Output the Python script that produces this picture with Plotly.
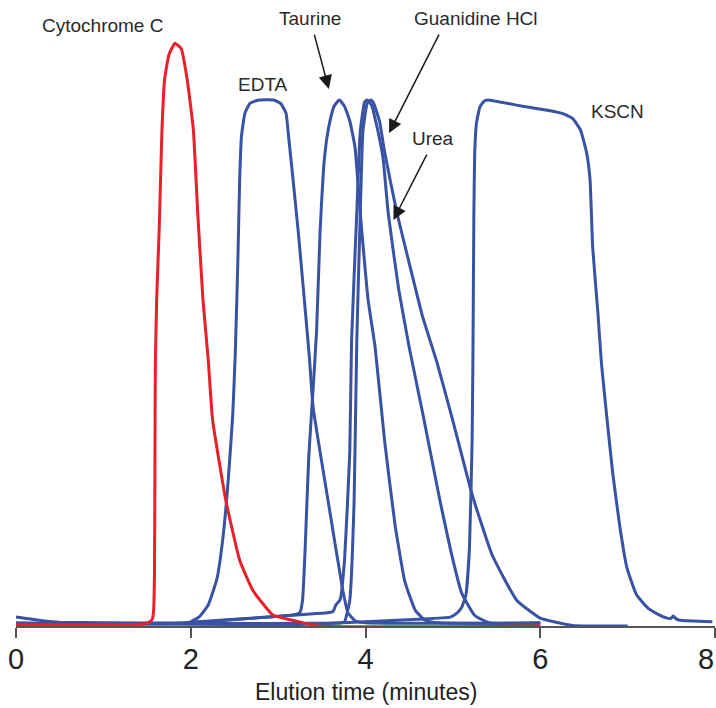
import plotly.graph_objects as go

# ---- data (elution time in minutes, absorbance in arbitrary units) ----
cyto_t = [0, 1.0, 1.45, 1.52, 1.56, 1.575, 1.585, 1.59, 1.595, 1.61, 1.64, 1.67, 1.70, 1.75, 1.82,
          1.89, 1.96, 2.03, 2.08, 2.14, 2.20, 2.25, 2.40, 2.56, 2.71, 2.94, 3.19, 3.46, 6.0]
cyto_y = [0.2, 0.2, 0.4, 0.7, 1.3, 3, 10, 30, 50, 62, 76, 94, 103.8, 108.6, 110.8,
          109.8, 103.8, 94.3, 78.5, 62, 50.6, 39.2, 24, 12.5, 6.8, 2.1, 1.0, 0, 0]

edta_t = [0, 1.0, 1.9, 2.0, 2.1, 2.2, 2.3, 2.37, 2.43, 2.48, 2.51, 2.54, 2.56, 2.58, 2.62, 2.68, 2.78,
          2.95, 3.03, 3.09, 3.12, 3.17, 3.23, 3.30, 3.36, 3.40, 3.57, 3.74, 3.80, 3.88, 4.0, 6.0]
edta_y = [0.5, 0.4, 0.5, 0.8, 1.8, 4, 9, 17, 28, 40, 52, 70, 85, 93, 97.5, 99.4, 100,
          100, 99.3, 97.5, 93, 85, 75, 62, 50.6, 41.6, 24, 6.8, 2.5, 1.0, 0.6, 0.6]

taur_t = [0, 1.0, 1.9, 2.0, 2.5, 2.9, 3.2, 3.25, 3.28, 3.31, 3.35, 3.40, 3.44, 3.48, 3.52, 3.56, 3.60,
          3.64, 3.70, 3.76, 3.82, 3.88, 3.94, 4.03, 4.11, 4.22, 4.34, 4.45, 4.57, 4.68, 4.85, 6.0]
taur_y = [0.5, 0.4, 0.5, 0.7, 1.3, 1.7, 2.2, 2.6, 5, 15, 32, 45, 56, 75, 87, 93, 96.5,
          98.8, 100, 98.8, 96, 91, 78.5, 62, 53, 35, 19, 8.5, 3, 1.1, 0.6, 0.5]

guan_t = [0, 2.0, 2.8, 3.3, 3.56, 3.63, 3.66, 3.71, 3.76, 3.82, 3.84, 3.90, 3.94, 3.99, 4.02,
          4.07, 4.13, 4.20, 4.26, 4.38, 4.50, 4.66, 4.85, 4.98, 5.10, 5.25, 5.42, 6.0]
guan_y = [0.5, 0.6, 1.6, 2.2, 2.5, 2.8, 4, 5, 12.5, 33, 54, 78.5, 94, 99.6, 100,
          99, 95, 89, 78.5, 64, 53, 40, 24, 14, 6.3, 2, 0.6, 0.5]

urea_t = [0, 0.3, 0.5, 2.0, 3.5, 3.72, 3.76, 3.82, 3.87, 3.90, 3.94, 3.97, 4.02, 4.06,
          4.09, 4.16, 4.22, 4.36, 4.50, 4.65, 4.82, 5.0, 5.22, 5.45, 5.73, 6.0, 6.37, 7.0]
urea_y = [1.7, 1.0, 0.7, 0.5, 0.5, 0.6, 0.8, 4.9, 24, 54, 78.5, 94, 99.4, 100,
          99.5, 96, 90, 78.5, 69, 59, 50, 39, 25, 13.5, 4.9, 1.5, 0.1, 0.0]

kscn_t = [0, 1.5, 2.5, 3.25, 4.0, 4.6, 4.97, 5.05, 5.10, 5.15, 5.19, 5.22, 5.23, 5.24, 5.25, 5.27,
          5.31, 5.36, 5.40, 5.8, 6.10, 6.26, 6.37, 6.46, 6.53, 6.57, 6.60, 6.66, 6.70, 6.76, 6.83,
          6.91, 6.99, 7.1, 7.22, 7.35, 7.45, 7.50, 7.52, 7.56, 7.6, 7.97]
kscn_y = [0.5, 0.4, 0.3, 0.3, 0.8, 1.3, 1.7, 2.5, 3.5, 6, 15, 35, 52, 78, 90, 95.6,
          98.7, 99.8, 100, 98.8, 98, 97.4, 96.5, 94.3, 90, 84.8, 72, 59.5, 50, 40, 29,
          19, 11.2, 6, 3.6, 2.2, 1.5, 1.5, 1.9, 1.3, 1.1, 0.8]

tick_vals = [0, 2, 4, 6, 8]
tick_text = ["0", "2", "4", "6", "8"]
x_title = "Elution time (minutes)"

# labels: (text, x, y)
labels = [("Cytochrome C", 0.995, 114.1), ("EDTA", 2.83, 103.0), ("Taurine", 3.36, 115.4),
          ("Guanidine HCl", 5.27, 115.4), ("Urea", 4.77, 92.6), ("KSCN", 6.88, 97.9)]
# arrows: (tail x, tail y, head x, head y)
arrows = [(3.41, 112.7, 3.58, 102.1), (4.85, 112.7, 4.27, 93.7), (4.71, 89.9, 4.32, 77.2)]

BLUE = "#3852a4"
RED = "#e8202a"
FONT = "Liberation Sans, Arial, sans-serif"
TICKFONT = dict(family=FONT, size=29, color="#222222")

fig = go.Figure()
for t, y, c, name in [(edta_t, edta_y, BLUE, "EDTA"), (taur_t, taur_y, BLUE, "Taurine"),
                      (guan_t, guan_y, BLUE, "Guanidine HCl"), (urea_t, urea_y, BLUE, "Urea"),
                      (kscn_t, kscn_y, BLUE, "KSCN"), (cyto_t, cyto_y, RED, "Cytochrome C")]:
    fig.add_trace(go.Scatter(x=t, y=y, mode="lines", name=name,
                             line=dict(color=c, width=3, shape="spline", smoothing=0.4)))

for txt, x, y in labels:
    fig.add_annotation(x=x, y=y, xref="x", yref="y", text=txt, showarrow=False,
                       font=dict(family=FONT, size=19, color="#2a2a2a"))
for ax_, ay_, x, y in arrows:
    fig.add_annotation(x=x, y=y, ax=ax_, ay=ay_, xref="x", yref="y", axref="x", ayref="y",
                       text="", showarrow=True, arrowhead=2, arrowsize=1.8, arrowwidth=1.5,
                       arrowcolor="#1a1a1a")

# last tick label kept inside the page (right-aligned at the edge)
axis_labels = tick_text[:-1] + [""]
fig.add_annotation(x=1.0, y=-0.0527, xref="paper", yref="paper", text=tick_text[-1],
                   showarrow=False, xanchor="right", yanchor="middle", xshift=1, font=TICKFONT)

# axis title placed as paper annotation below tick labels
fig.add_annotation(x=0.5, y=-0.1054, xref="paper", yref="paper", text=x_title, showarrow=False,
                   xanchor="center", yanchor="middle",
                   font=dict(family=FONT, size=23, color="#222222"))

fig.update_layout(
    width=716, height=708, margin=dict(l=16, r=1, t=0, b=82, autoexpand=False),
    plot_bgcolor="white", paper_bgcolor="white", showlegend=False,
    xaxis=dict(range=[0, 8], tickvals=tick_vals, ticktext=axis_labels, showgrid=False, zeroline=False,
               showline=True, linecolor="#555555", linewidth=1.5, ticks="outside", ticklen=10,
               tickwidth=1.5, tickcolor="#555555", ticklabeloverflow="allow",
               ticklabelstandoff=-4, automargin=False, tickfont=TICKFONT),
    yaxis=dict(range=[0, 119], visible=False),
)

fig.write_html("out.html")
